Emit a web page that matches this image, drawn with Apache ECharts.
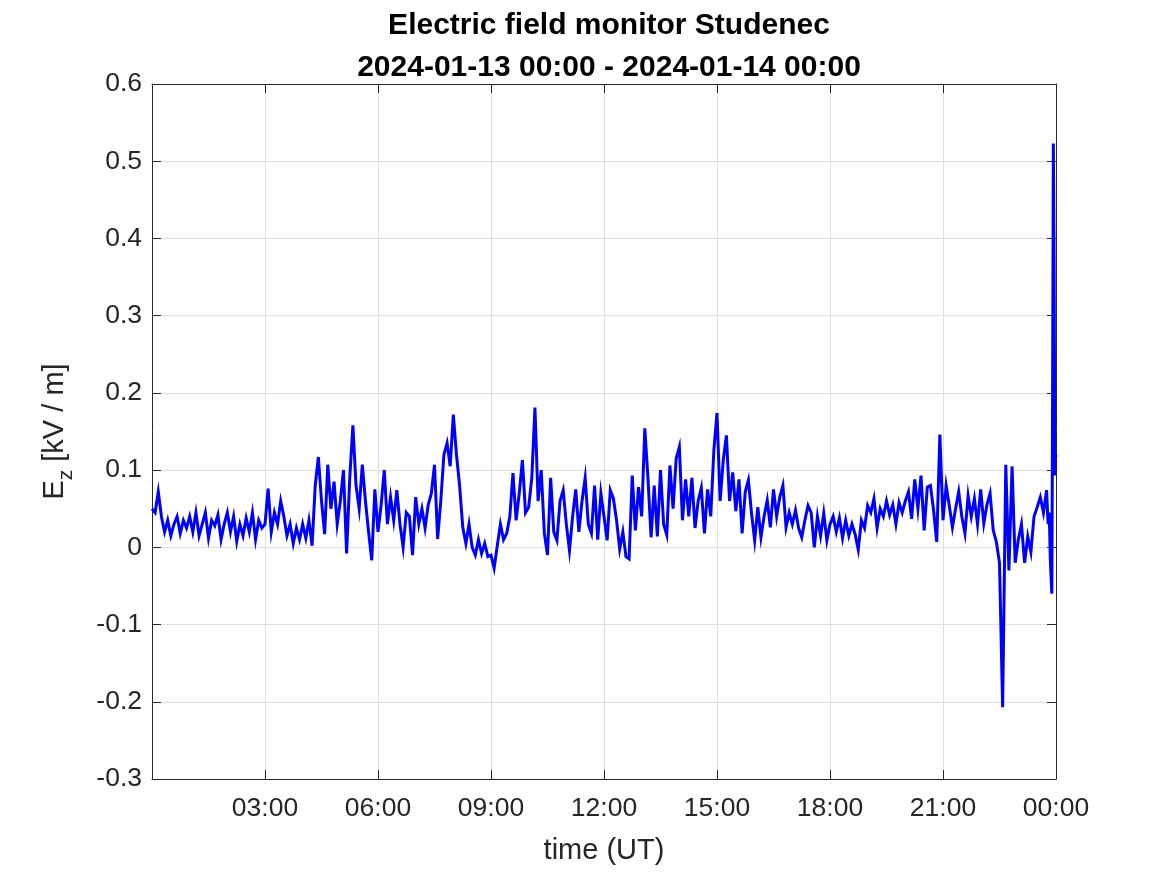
<!DOCTYPE html>
<html>
<head>
<meta charset="utf-8">
<script src="https://cdn.jsdelivr.net/npm/echarts@6/dist/echarts.min.js"></script>
<style>
html,body{margin:0;padding:0;background:#fff;}
#chart{width:1167px;height:875px;}
</style>
</head>
<body>
<div id="chart"></div>
<script>
// ---- data (kV/m), sampled every 5 minutes from 00:00 ----
const titleLines = ['Electric field monitor Studenec', '2024-01-13 00:00 - 2024-01-14 00:00'];
const xTickHours = [0, 3, 6, 9, 12, 15, 18, 21, 24];
const yTicks = [-0.3, -0.2, -0.1, 0, 0.1, 0.2, 0.3, 0.4, 0.5, 0.6];
const stepMinutes = 5;
const ezMain = [
  // 00h
  0.050, 0.045, 0.072, 0.040, 0.020, 0.035, 0.015, 0.030, 0.040, 0.018, 0.035, 0.025,
  // 01h
  0.040, 0.020, 0.045, 0.015, 0.030, 0.045, 0.012, 0.035, 0.028, 0.042, 0.010, 0.030,
  // 02h
  0.045, 0.020, 0.040, 0.008, 0.030, 0.015, 0.038, 0.020, 0.045, 0.010, 0.035, 0.025,
  // 03h
  0.030, 0.076, 0.020, 0.045, 0.030, 0.060, 0.040, 0.015, 0.030, 0.005, 0.025, 0.010,
  // 04h
  0.030, 0.012, 0.035, 0.002, 0.080, 0.117, 0.060, 0.017, 0.107, 0.050, 0.085, 0.030,
  // 05h
  0.060, 0.100, -0.008, 0.090, 0.158, 0.080, 0.050, 0.107, 0.060, 0.020, -0.017, 0.075,
  // 06h
  0.020, 0.055, 0.100, 0.030, 0.065, 0.035, 0.074, 0.030, 0.000, 0.045, 0.040, -0.010,
  // 07h
  0.065, 0.030, 0.050, 0.025, 0.055, 0.070, 0.107, 0.011, 0.060, 0.120, 0.135, 0.105,
  // 08h
  0.172, 0.120, 0.080, 0.026, 0.005, 0.030, 0.000, -0.010, 0.010, -0.008, 0.005, -0.012,
  // 09h
  -0.010, -0.027, 0.002, 0.030, 0.010, 0.018, 0.040, 0.096, 0.035, 0.070, 0.113, 0.045,
  // 10h
  0.052, 0.090, 0.181, 0.060, 0.100, 0.018, -0.010, 0.090, 0.020, 0.009, 0.060, 0.074,
  // 11h
  0.030, -0.004, 0.040, 0.075, 0.020, 0.060, 0.090, 0.030, 0.018, 0.080, 0.010, 0.070,
  // 12h
  0.040, 0.009, 0.074, 0.063, 0.035, -0.002, 0.020, -0.012, -0.015, 0.093, 0.022, 0.078,
  // 13h
  0.040, 0.154, 0.090, 0.013, 0.080, 0.014, 0.100, 0.030, 0.016, 0.106, 0.050, 0.115,
  // 14h
  0.130, 0.035, 0.088, 0.040, 0.090, 0.025, 0.060, 0.077, 0.018, 0.075, 0.040, 0.126,
  // 15h
  0.174, 0.060, 0.113, 0.145, 0.060, 0.097, 0.047, 0.088, 0.018, 0.072, 0.087, 0.044,
  // 16h
  0.009, 0.052, 0.013, 0.040, 0.061, 0.026, 0.075, 0.040, 0.065, 0.080, 0.026, 0.045,
  // 17h
  0.030, 0.048, 0.025, 0.013, 0.035, 0.054, 0.045, 0.000, 0.040, 0.015, 0.044, 0.009,
  // 18h
  0.030, 0.040, 0.020, 0.038, 0.012, 0.035, 0.015, 0.030, 0.017, -0.003, 0.035, 0.025,
  // 19h
  0.054, 0.045, 0.063, 0.025, 0.050, 0.040, 0.060, 0.042, 0.055, 0.030, 0.058, 0.045,
  // 20h
  0.060, 0.072, 0.037, 0.088, 0.050, 0.093, 0.022, 0.078, 0.080, 0.048, 0.007, 0.146,
  // 21h
  0.035, 0.080, 0.054, 0.026, 0.050, 0.072, 0.040, 0.018, 0.067, 0.040, 0.063, 0.030,
  // 22h
  0.075, 0.031, 0.055, 0.070, 0.022, 0.007, -0.020, -0.207, 0.107, -0.030, 0.105, -0.020,
  // 23h (00..45 min)
  0.010, 0.030, -0.020, 0.014, -0.006, 0.040, 0.052, 0.065, 0.045, 0.074
];
// final minutes, irregular detail (hours, kV/m)
const tailHours = [23.79, 23.82, 23.85, 23.87, 23.89, 23.91, 23.93, 23.95, 23.97, 23.99, 24.0];
const tailEz    = [0.030, 0.045, -0.016, -0.040, -0.060, 0.207, 0.523, 0.370, 0.093, 0.120, 0.117];

// ---- build series ----
const seriesData = ezMain.map((v, i) => [i * stepMinutes / 60, v])
  .concat(tailHours.map((h, i) => [h, tailEz[i]]));

const FONT = 'Liberation Sans, Arial, Helvetica, sans-serif';
const AX = '#262626';
const GRIDC = '#dfdfdf';
const pad2 = n => (n < 10 ? '0' : '') + n;

const chart = echarts.init(document.getElementById('chart'), null, {renderer: 'canvas'});
chart.setOption({
  backgroundColor: '#ffffff',
  animation: false,
  title: {
    text: titleLines.join('\n'),
    left: 604,
    textAlign: 'center',
    top: 0,
    textStyle: {fontFamily: FONT, fontWeight: 'bold', fontSize: 30, lineHeight: 42, color: '#000'}
  },
  grid: {left: 152, top: 84, width: 904, height: 695, containLabel: false},
  xAxis: [{
    type: 'value', min: xTickHours[0], max: xTickHours[xTickHours.length - 1], interval: 3,
    position: 'bottom',
    name: 'time (UT)', nameLocation: 'middle', nameGap: 57,
    nameTextStyle: {fontFamily: FONT, fontSize: 29, color: AX},
    axisLine: {show: true, onZero: false, lineStyle: {color: AX, width: 1}},
    axisTick: {show: true, inside: true, length: 9, lineStyle: {color: AX}},
    axisLabel: {
      margin: 16, fontFamily: FONT, fontSize: 26.5, color: AX,
      formatter: v => (v === 0 ? '' : pad2(v % 24) + ':00')
    },
    splitLine: {show: true, lineStyle: {color: GRIDC, width: 1}}
  }, {
    type: 'value', min: xTickHours[0], max: xTickHours[xTickHours.length - 1], interval: 3,
    position: 'top',
    axisLine: {show: true, onZero: false, lineStyle: {color: AX, width: 1}},
    axisTick: {show: true, inside: true, length: 9, lineStyle: {color: AX}},
    axisLabel: {show: false},
    splitLine: {show: false}
  }],
  yAxis: [{
    type: 'value', min: yTicks[0], max: yTicks[yTicks.length - 1], interval: 0.1,
    position: 'left',
    name: '{e|E}{s|z}{e| [kV / m]}', nameLocation: 'middle', nameGap: 75,
    nameTextStyle: {
      fontFamily: FONT, fontSize: 29, color: AX,
      rich: {
        e: {fontFamily: FONT, fontSize: 29, color: AX, lineHeight: 44, verticalAlign: 'middle'},
        s: {fontFamily: FONT, fontSize: 21, color: AX, lineHeight: 20, verticalAlign: 'bottom'}
      }
    },
    axisLine: {show: true, onZero: false, lineStyle: {color: AX, width: 1}},
    axisTick: {show: true, inside: true, length: 9, lineStyle: {color: AX}},
    axisLabel: {
      margin: 10, fontFamily: FONT, fontSize: 26.5, color: AX,
      formatter: v => String(Math.round(v * 10) / 10)
    },
    splitLine: {show: true, lineStyle: {color: GRIDC, width: 1}}
  }, {
    type: 'value', min: yTicks[0], max: yTicks[yTicks.length - 1], interval: 0.1,
    position: 'right',
    axisLine: {show: true, onZero: false, lineStyle: {color: AX, width: 1}},
    axisTick: {show: true, inside: true, length: 9, lineStyle: {color: AX}},
    axisLabel: {show: false},
    splitLine: {show: false}
  }],
  series: [{
    type: 'line',
    xAxisIndex: 0, yAxisIndex: 0,
    data: seriesData,
    showSymbol: false,
    symbol: 'none',
    lineStyle: {color: '#0000ff', width: 3, join: 'miter'},
    itemStyle: {color: '#0000ff'},
    clip: true
  }]
});
</script>
</body>
</html>
